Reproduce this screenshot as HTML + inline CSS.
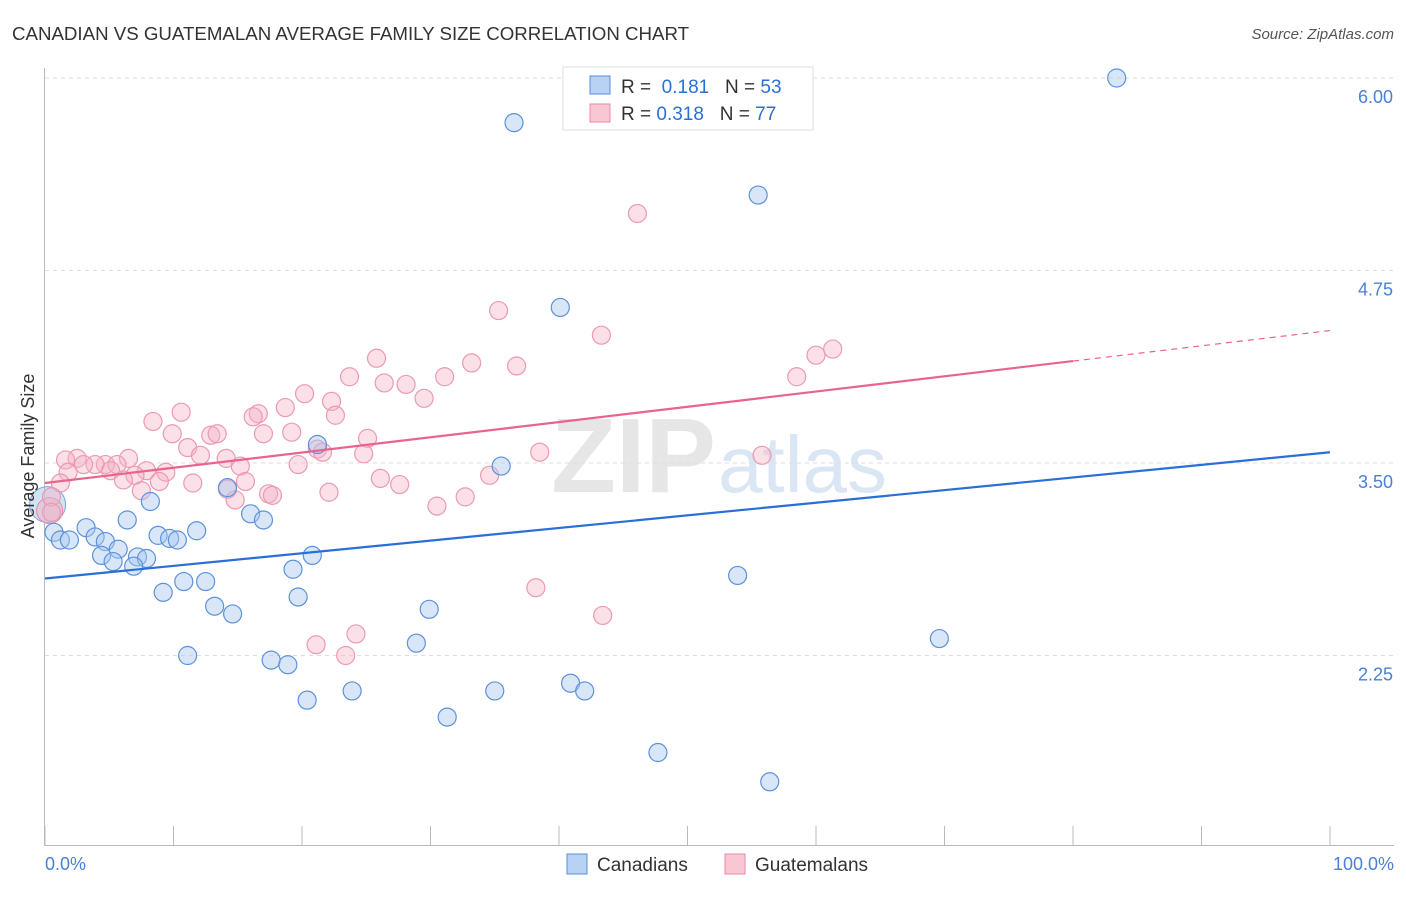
<!DOCTYPE html>
<html><head><meta charset="utf-8"><style>
body{margin:0;background:#fff;font-family:"Liberation Sans",sans-serif;}
svg text{font-family:"Liberation Sans",sans-serif;}
</style></head><body>
<svg id="c" width="1406" height="892" xmlns="http://www.w3.org/2000/svg">
<text x="12" y="40" font-size="18.7" fill="#333">CANADIAN VS GUATEMALAN AVERAGE FAMILY SIZE CORRELATION CHART</text>
<text x="1394" y="39" font-size="15" fill="#555" font-style="italic" text-anchor="end">Source: ZipAtlas.com</text>
<text x="716" y="492" font-size="106" fill="#e6e6e6" font-family="Liberation Serif" font-weight="bold" text-anchor="end">ZIP</text>
<text x="718" y="492" font-size="80" fill="#dbe6f5">atlas</text>
<g id="grid"></g><g id="axes"></g><g id="pts"></g><g id="trend"></g>
<text x="34" y="456" font-size="18" fill="#333" transform="rotate(-90 34 456)" text-anchor="middle">Average Family Size</text>
<text x="45" y="870" font-size="18" fill="#4a80d8">0.0%</text>
<text x="1394" y="870" font-size="18" fill="#4a80d8" text-anchor="end">100.0%</text>
<g>
<rect x="563" y="67" width="250" height="63" fill="#fff" stroke="#ddd"/>
<rect x="590" y="76" width="20" height="18" fill="#b7d2f5" stroke="#5a8fd8"/>
<rect x="590" y="104" width="20" height="18" fill="#f9c6d4" stroke="#e88aa5"/>
<text x="621" y="93" font-size="19" fill="#333">R = <tspan fill="#2a6fd6">&#160;0.181</tspan>&#160;&#160;&#160;N = <tspan fill="#2a6fd6">53</tspan></text>
<text x="621" y="120" font-size="19" fill="#333">R = <tspan fill="#2a6fd6">0.318</tspan>&#160;&#160;&#160;N = <tspan fill="#2a6fd6">77</tspan></text>
</g>
<g>
<rect x="567" y="854" width="20" height="20" fill="#b7d2f5" stroke="#5a8fd8"/>
<text x="597" y="871" font-size="19" fill="#333">Canadians</text>
<rect x="725" y="854" width="20" height="20" fill="#f9c6d4" stroke="#e88aa5"/>
<text x="755" y="871" font-size="19" fill="#333">Guatemalans</text>
</g>
</svg>
<script>
const yTicks=[6.00,4.75,3.50,2.25];
const yTickLabels=["6.00","4.75","3.50","2.25"];
const blueX=[83.4,36.5,55.5,40.1,21.2,35.5,14.2,8.2,16.0,6.4,17.0,0.7,3.2,1.2,1.9,3.9,4.7,8.8,9.7,10.3,11.8,5.7,4.4,5.3,7.2,7.9,6.9,20.8,19.3,10.8,12.5,53.9,9.2,19.7,13.2,14.6,29.9,69.6,28.9,11.1,17.6,18.9,40.9,23.9,35.0,42.0,20.4,31.3,47.7,56.4];
const blueY=[6.00,5.71,5.24,4.51,3.62,3.48,3.34,3.25,3.17,3.13,3.13,3.05,3.08,3.00,3.00,3.02,2.99,3.03,3.01,3.00,3.06,2.94,2.90,2.86,2.89,2.88,2.83,2.90,2.81,2.73,2.73,2.77,2.66,2.63,2.57,2.52,2.55,2.36,2.33,2.25,2.22,2.19,2.07,2.02,2.02,2.02,1.96,1.85,1.62,1.43];
const pinkX=[46.1,35.3,43.3,61.3,60.0,25.8,33.2,36.7,31.1,23.7,26.4,28.1,58.5,20.2,29.5,22.3,10.6,18.7,16.6,16.2,22.6,8.4,17.0,9.9,12.9,13.4,19.2,25.1,11.1,21.2,21.6,38.5,55.8,2.5,1.6,6.5,4.7,3.9,5.6,12.1,14.1,24.8,19.7,15.2,7.9,9.4,7.0,1.8,3.0,5.1,6.1,8.9,11.5,15.6,1.2,26.1,27.6,34.6,14.2,7.5,17.4,17.7,22.1,32.7,14.8,30.5,0.5,0.5,38.2,43.4,24.2,21.1,23.4];
const pinkY=[5.12,4.49,4.33,4.24,4.20,4.18,4.15,4.13,4.06,4.06,4.02,4.01,4.06,3.95,3.92,3.90,3.83,3.86,3.82,3.80,3.81,3.77,3.69,3.69,3.68,3.69,3.70,3.66,3.60,3.59,3.57,3.57,3.55,3.53,3.52,3.53,3.49,3.49,3.49,3.55,3.53,3.56,3.49,3.48,3.45,3.44,3.42,3.44,3.49,3.45,3.39,3.38,3.37,3.38,3.37,3.40,3.36,3.42,3.33,3.32,3.30,3.29,3.31,3.28,3.26,3.22,3.28,3.18,2.69,2.51,2.39,2.32,2.25];
const bigPoint=[0.2,3.23];
const blueTrend=[2.75,3.57];
const pinkTrend=[3.37,4.36];
const pinkSolidEnd=80;
const NS="http://www.w3.org/2000/svg";
const X=v=>45+v*12.85, Y=v=>463-(v-3.5)*154;
function mk(t,a,p){const e=document.createElementNS(NS,t);for(const k in a)e.setAttribute(k,a[k]);document.getElementById(p).appendChild(e);return e;}
yTicks.forEach((t,i)=>{
 const l=mk('line',{x1:45,x2:1394,y1:Y(t),y2:Y(t),stroke:'#ddd','stroke-dasharray':'4,4'},'grid');
 
 
 const tx=mk('text',{x:1393,y:Y(t)+25,'font-size':18,fill:'#4a80d8','text-anchor':'end'},'grid');
 tx.textContent=yTickLabels[i];
 
 
});
const ax=mk('line',{x1:44.5,x2:44.5,y1:68,y2:846,stroke:'#bbb'},'axes');


const bx=mk('line',{x1:44,x2:1394,y1:845.5,y2:845.5,stroke:'#bbb'},'axes');


for(let i=0;i<=10;i++){const t=mk('line',{x1:X(i*10),x2:X(i*10),y1:826,y2:846,stroke:'#bbb'},'axes');
 
 }
const bb=mk('circle',{cx:X(bigPoint[0]),cy:Y(bigPoint[1]),r:18,fill:'rgba(168,200,240,0.5)',stroke:'#7aa6e0'},'pts');


const bp=mk('circle',{cx:X(bigPoint[0])+2,cy:Y(bigPoint[1])+6,r:13,fill:'rgba(240,170,190,0.45)',stroke:'#e88aa5'},'pts');


pinkX.forEach((x,i)=>{const c=mk('circle',{cx:X(x),cy:Y(pinkY[i]),r:9,fill:'rgba(246,178,198,0.4)',stroke:'#eb9ab2','stroke-width':1.2},'pts');
 
 });
blueX.forEach((x,i)=>{const c=mk('circle',{cx:X(x),cy:Y(blueY[i]),r:9,fill:'rgba(168,200,240,0.45)',stroke:'#5b92dc','stroke-width':1.2},'pts');
 
 });
const bt=mk('line',{x1:X(0),y1:Y(blueTrend[0]),x2:X(100),y2:Y(blueTrend[1]),stroke:'#2a6fd6','stroke-width':2.2},'trend');


const pm=pinkTrend[0]+(pinkTrend[1]-pinkTrend[0])*pinkSolidEnd/100;
const pt=mk('line',{x1:X(0),y1:Y(pinkTrend[0]),x2:X(pinkSolidEnd),y2:Y(pm),stroke:'#e8648e','stroke-width':2.2},'trend');


const pd=mk('line',{x1:X(pinkSolidEnd),y1:Y(pm),x2:X(100),y2:Y(pinkTrend[1]),stroke:'#e8648e','stroke-width':1.2,'stroke-dasharray':'6,5'},'trend');


</script>
</body></html>
